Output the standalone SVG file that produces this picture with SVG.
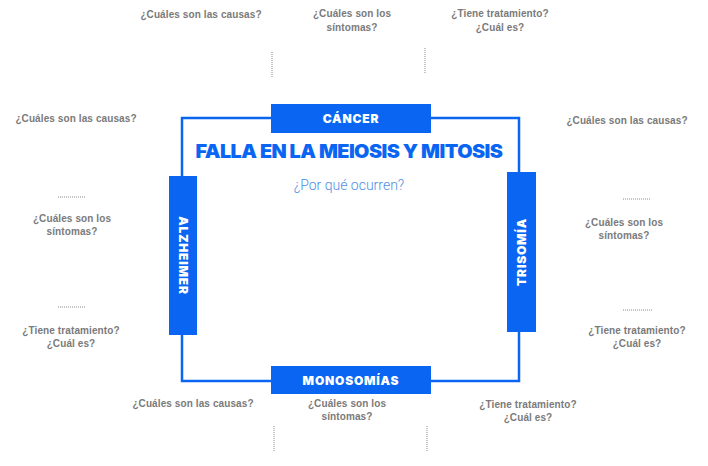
<svg xmlns="http://www.w3.org/2000/svg" width="708" height="466" viewBox="0 0 708 466">
<style>
.q{font-family:"Liberation Sans",Arial,sans-serif;font-weight:bold;font-size:10px;fill:#7a7a7a;text-anchor:middle;letter-spacing:0.1px}
.box{fill:#0a66f2}
.lbl{font-family:Inter,"Liberation Sans",Arial,sans-serif;font-weight:900;font-size:12px;fill:#fff;text-anchor:middle;letter-spacing:0.8px}
.dot{stroke:#8a8a8a;stroke-width:1;stroke-dasharray:1 1;fill:none}
.frame{stroke:#0a66f2;stroke-width:2.5;fill:none}
</style>
<rect width="708" height="466" fill="#fff"/>
<g id="connectors">
<rect class="frame" x="182" y="118" width="337" height="263"/>
<line class="dot" x1="272" y1="52" x2="272" y2="78"/>
<line class="dot" x1="425" y1="48" x2="425" y2="73"/>
<line class="dot" x1="58" y1="197" x2="85" y2="197"/>
<line class="dot" x1="58" y1="307" x2="85" y2="307"/>
<line class="dot" x1="623" y1="199" x2="651" y2="199"/>
<line class="dot" x1="623" y1="310" x2="652" y2="310"/>
<line class="dot" x1="274" y1="426" x2="274" y2="451"/>
<line class="dot" x1="427" y1="426" x2="427" y2="451"/>
</g>
<g id="title">
<text x="349" y="158" font-family="Inter,Liberation Sans,Arial,sans-serif" font-weight="900" font-size="18.5" fill="#0a66f2" text-anchor="middle" textLength="307" lengthAdjust="spacingAndGlyphs" letter-spacing="-0.5">FALLA EN LA MEIOSIS Y MITOSIS</text>
<text x="349" y="190" font-family="Roboto,Liberation Sans,sans-serif" font-weight="300" font-size="14" fill="#4d8fe6" text-anchor="middle">¿Por qué ocurren?</text>
</g>
<g id="cancer">
<rect class="box" x="271" y="104" width="160" height="29"/>
<text class="lbl" x="351" y="123">CÁNCER</text>
</g>
<g id="monosomias">
<rect class="box" x="271" y="366" width="160" height="28"/>
<text class="lbl" x="351" y="385">MONOSOMÍAS</text>
</g>
<g id="alzheimer">
<rect class="box" x="169" y="176" width="28" height="159"/>
<text class="lbl" transform="translate(178.5 255.5) rotate(90)" x="0" y="0">ALZHEIMER</text>
</g>
<g id="trisomia">
<rect class="box" x="507" y="172" width="29" height="160"/>
<text class="lbl" transform="translate(526 252) rotate(-90)" x="0" y="0">TRISOMÍA</text>
</g>
<g id="top-questions">
<text class="q" x="201" y="18">¿Cuáles son las causas?</text>
<text class="q" x="352" y="17">¿Cuáles son los</text>
<text class="q" x="352" y="31">síntomas?</text>
<text class="q" x="500" y="17">¿Tiene tratamiento?</text>
<text class="q" x="500" y="31">¿Cuál es?</text>
</g>
<g id="left-questions">
<text class="q" x="76" y="122">¿Cuáles son las causas?</text>
<text class="q" x="72" y="222">¿Cuáles son los</text>
<text class="q" x="72" y="235">síntomas?</text>
<text class="q" x="71" y="334">¿Tiene tratamiento?</text>
<text class="q" x="71" y="347">¿Cuál es?</text>
</g>
<g id="right-questions">
<text class="q" x="627" y="124">¿Cuáles son las causas?</text>
<text class="q" x="624" y="226">¿Cuáles son los</text>
<text class="q" x="624" y="239">síntomas?</text>
<text class="q" x="637" y="334">¿Tiene tratamiento?</text>
<text class="q" x="637" y="347">¿Cuál es?</text>
</g>
<g id="bottom-questions">
<text class="q" x="193" y="407">¿Cuáles son las causas?</text>
<text class="q" x="347" y="407">¿Cuáles son los</text>
<text class="q" x="347" y="420">síntomas?</text>
<text class="q" x="528" y="408">¿Tiene tratamiento?</text>
<text class="q" x="528" y="421">¿Cuál es?</text>
</g>
</svg>
